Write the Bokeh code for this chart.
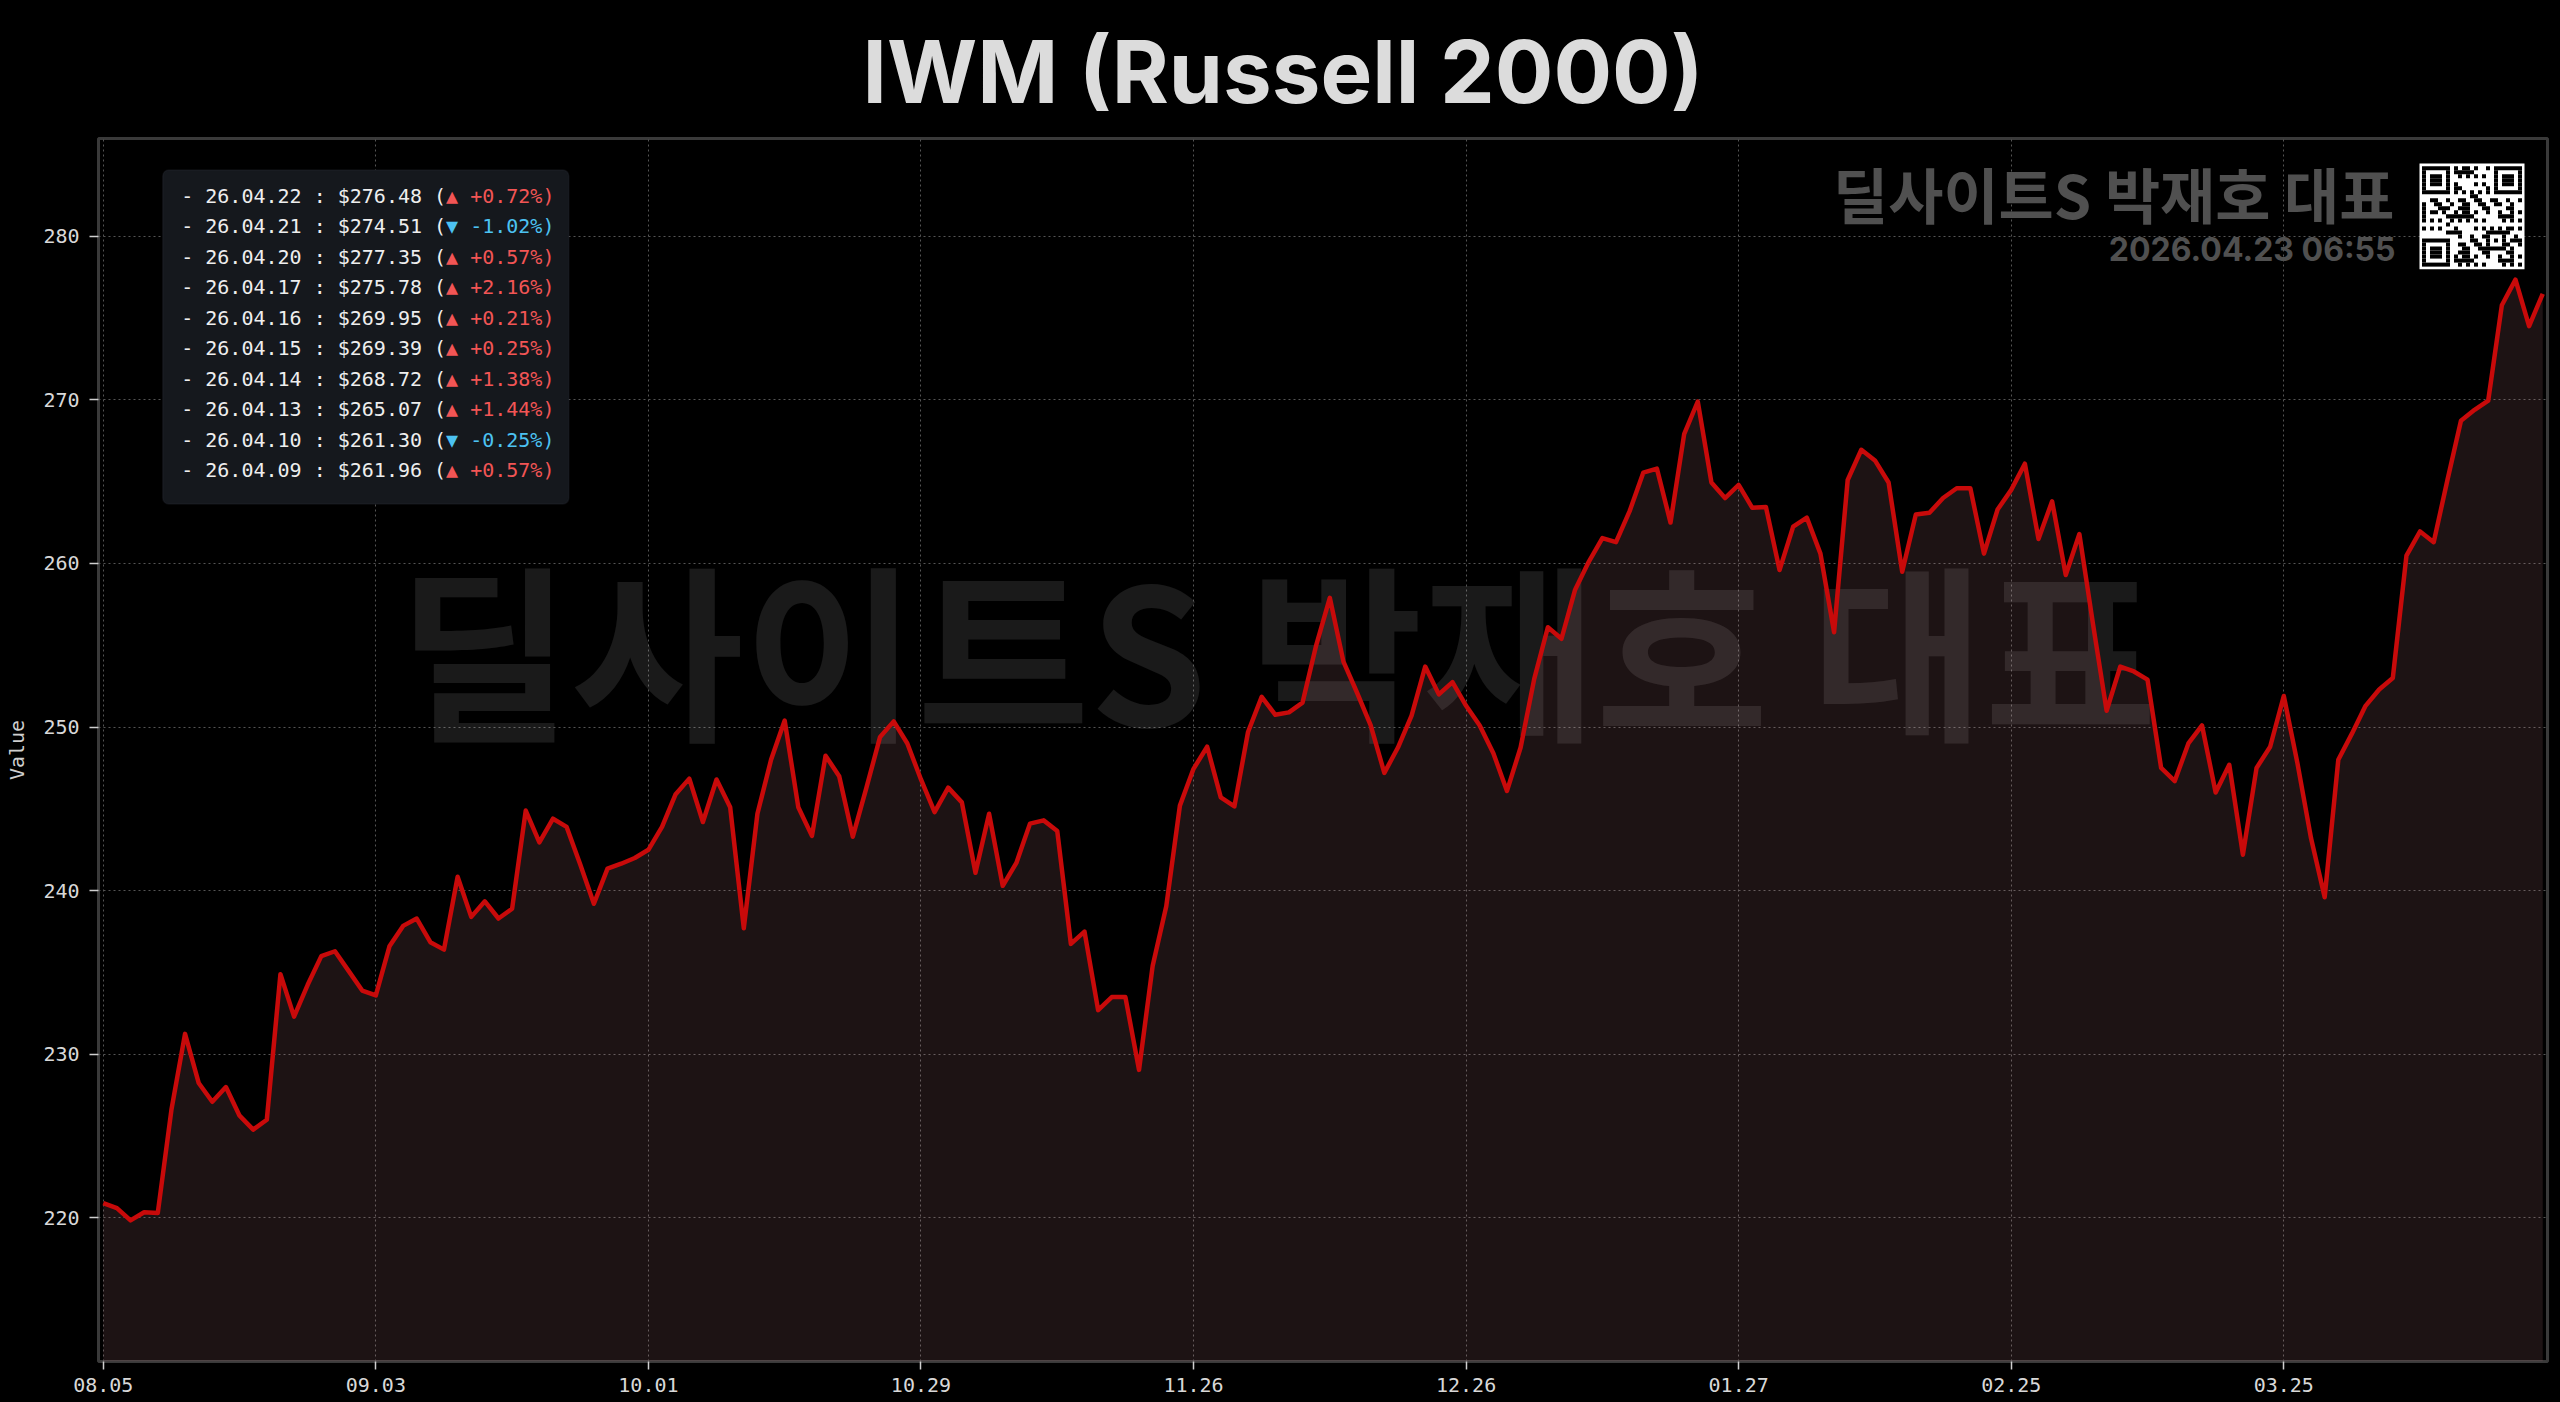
import numpy as np
import pandas as pd
from bokeh.plotting import figure
from bokeh.models import (Range1d, FixedTicker, Label, LabelSet, BoxAnnotation,
                          ColumnDataSource)
from bokeh.core.properties import value
from bokeh.embed import file_html
from bokeh.resources import INLINE

try:
    from bokeh.models import GlobalInlineStyleSheet
except Exception:
    GlobalInlineStyleSheet = None

# ---------------- data ----------------
values = [
    220.9, 220.6, 219.85, 220.35, 220.3, 226.6, 231.25, 228.25, 227.1, 228.0,
    226.25, 225.4, 226.0, 234.9, 232.3, 234.25, 236.0, 236.3, 235.1, 233.9,
    233.6, 236.6, 237.85, 238.3, 236.85, 236.4, 240.85, 238.4, 239.35, 238.3,
    238.9, 244.9, 242.95, 244.4, 243.9, 241.6, 239.2, 241.35, 241.65, 242.0,
    242.5, 243.9, 245.9, 246.85, 244.2, 246.8, 245.1, 237.7, 244.7, 248.0,
    250.4, 245.1, 243.35, 248.25, 247.0, 243.3, 246.3, 249.4, 250.35, 249.0,
    246.8, 244.8, 246.3, 245.4, 241.1, 244.7, 240.3, 241.7, 244.1, 244.3,
    243.65, 236.75, 237.5, 232.7, 233.5, 233.5, 229.05, 235.4, 239.05, 245.2,
    247.45, 248.8, 245.7, 245.15, 249.7, 251.85, 250.75, 250.9, 251.5, 255.0,
    257.9, 254.0, 252.1, 250.1, 247.2, 248.75, 250.7, 253.7, 252.0, 252.75,
    251.3, 250.1, 248.4, 246.1, 248.75, 252.95, 256.1, 255.4, 258.4, 260.1,
    261.55, 261.3, 263.2, 265.55, 265.8, 262.5, 267.9, 269.9, 264.95, 264.0,
    264.8, 263.4, 263.45, 259.6, 262.25, 262.8, 260.6, 255.8, 265.1, 266.95,
    266.3, 264.95, 259.5, 263.0, 263.1, 264.0, 264.6, 264.6, 260.6, 263.3,
    264.5, 266.1, 261.5, 263.8, 259.3, 261.8, 256.3, 251.0, 253.7, 253.4,
    252.9, 247.5, 246.7, 249.0, 250.1, 246.0, 247.7, 242.2, 247.5, 248.8,
    251.9, 247.8, 243.2, 239.6, 248.0, 249.6, 251.3, 252.3, 253.0, 260.48,
    261.96, 261.30, 265.07, 268.72, 269.39, 269.95, 275.78, 277.35, 274.51, 276.48,
]
market_holidays = ["2025-09-01", "2025-11-27", "2025-12-25", "2026-01-01",
                   "2026-01-19", "2026-02-16", "2026-04-03"]
start_date, end_date = "2025-08-05", "2026-04-22"
y_ticks = [220, 230, 240, 250, 260, 270, 280]
title_text = "IWM (Russell 2000)"
brand_text = "딜사이트S 박재호 대표"
stamp_text = "2026.04.23 06:55"
legend_rows = 10

n = len(values)
dates = [d for d in pd.bdate_range(start_date, end_date)
         if d.strftime("%Y-%m-%d") not in market_holidays][:n]
idx = list(range(n))
tick_idx = list(range(0, n, 20))
tick_labels = [dates[i].strftime("%m.%d") for i in tick_idx]

# ---------------- geometry ----------------
FIG_W, FIG_H = 2560, 1402
BL, BR, BT, BB = 98, 13, 138, 41
FW = FIG_W - BL - BR
FH = FIG_H - BT - 47          # expected frame height (x-axis panel ~47px)

vmin, vmax = min(values), max(values)
span = vmax - vmin
xpad = 0.35
ylo = vmin - 0.15 * span

p = figure(width=FIG_W, height=FIG_H, output_backend="svg", toolbar_location=None,
           x_range=Range1d(-xpad, n - 1 + xpad),
           y_range=Range1d(ylo, vmax + 0.15 * span),
           min_border_left=BL, min_border_right=BR, min_border_top=BT,
           min_border_bottom=BB,
           background_fill_color="#000000", border_fill_color="#000000")
# frame-pixel helper ranges: fx from frame left, fy from frame top (downwards)
p.extra_x_ranges = {"fx": Range1d(0, FW)}
p.extra_y_ranges = {"fy": Range1d(FH, 0)}
p.outline_line_color = "#3a3a3a"
p.outline_line_width = 3

if GlobalInlineStyleSheet is not None:
    p.stylesheets = [GlobalInlineStyleSheet(
        css="html, body { background-color: #000000 !important; overflow: hidden !important; }")]

# title
p.title.text = title_text
p.title.text_font = "Inter"
p.title.text_font_style = "bold"
p.title.text_font_size = "87px"
p.title.text_color = "#dcdcdc"
p.title.align = "left"
p.title.offset = 764
p.title.standoff = 30

# axes
mono = "DejaVu Sans Mono"
for ax in (p.xaxis, p.yaxis):
    ax.axis_line_color = None
    ax.minor_tick_line_color = None
    ax.major_tick_in = 0
    ax.major_tick_line_color = "#cfcfcf"
    ax.major_tick_line_width = 1.5
    ax.major_label_text_font = mono
    ax.major_label_text_color = "#d8d8d8"
p.xaxis.ticker = FixedTicker(ticks=tick_idx)
p.xaxis.major_label_overrides = {i: lab for i, lab in zip(tick_idx, tick_labels)}
p.xaxis.major_tick_out = 8
p.xaxis.major_label_standoff = 8
p.xaxis.major_label_text_font_size = "20px"
p.xaxis.axis_label_standoff = 0
p.yaxis.ticker = FixedTicker(ticks=y_ticks)
p.yaxis.major_tick_out = 9
p.yaxis.major_label_standoff = 10
p.yaxis.major_label_text_font_size = "20px"
p.yaxis.axis_label = "Value"
p.yaxis.axis_label_text_font = mono
p.yaxis.axis_label_text_font_style = "normal"
p.yaxis.axis_label_text_font_size = "20px"
p.yaxis.axis_label_text_color = "#cfcfcf"
p.yaxis.axis_label_standoff = 11

p.grid.grid_line_color = "#555555"
p.grid.grid_line_dash = "2 3"
p.grid.grid_line_width = 1

FR = dict(x_range_name="fx", y_range_name="fy")

# big watermark (under the fill and line)
p.text(x=[1179], y=[503], text=[brand_text], **FR,
       text_font=value("Noto Sans CJK KR"), text_font_style="bold",
       text_font_size=value("188px"), text_color="#ffffff", text_alpha=0.1,
       text_align="center", text_baseline="middle")

# area + line
p.varea(x=idx, y1=ylo, y2=values, fill_color="#f09ea6", fill_alpha=0.12)
p.line(idx, values, line_color="#c80a0a", line_width=4.5, line_join="round")

# QR-like badge (decoration)
NQ = 25
qr = np.zeros((NQ, NQ), dtype=bool)
reserved = np.zeros((NQ, NQ), dtype=bool)


def finder(r0, c0):
    for r in range(7):
        for c in range(7):
            qr[r0 + r, c0 + c] = (r in (0, 6) or c in (0, 6) or (2 <= r <= 4 and 2 <= c <= 4))
    reserved[max(r0 - 1, 0):r0 + 8, max(c0 - 1, 0):c0 + 8] = True


finder(0, 0)
finder(0, NQ - 7)
finder(NQ - 7, 0)
for k in range(NQ):
    if not reserved[6, k]:
        qr[6, k] = (k % 2 == 0)
    if not reserved[k, 6]:
        qr[k, 6] = (k % 2 == 0)
reserved[6, :] = True
reserved[:, 6] = True
for r in range(16, 21):
    for c in range(16, 21):
        qr[r, c] = (r in (16, 20) or c in (16, 20) or (r == 18 and c == 18))
reserved[16:21, 16:21] = True
for r in range(NQ):
    for c in range(NQ):
        if not reserved[r, c]:
            qr[r, c] = ((r * r * 3 + c * 7 + r * c * 5 + (c * c) % 4) % 11) < 5

qx0, qy0, qsize = 2321, 25, 105
mod = 4.0
marg = (qsize - NQ * mod) / 2
p.rect(x=[qx0 + qsize / 2], y=[qy0 + qsize / 2], width=qsize, height=qsize, **FR,
       fill_color="#ffffff", line_color=None)
rr, cc = np.nonzero(qr)
p.rect(x=qx0 + marg + mod * cc + mod / 2, y=qy0 + marg + mod * rr + mod / 2,
       width=mod, height=mod, **FR, fill_color="#000000", line_color=None)

# brand + timestamp (top right)
p.add_layout(Label(x=2296, y=54, **FR, text=brand_text,
                   text_font="Noto Sans CJK KR", text_font_style="bold",
                   text_font_size="60px", text_color="#505050",
                   text_align="right", text_baseline="middle"))
p.add_layout(Label(x=2297, y=110, **FR, text=stamp_text, text_font="Inter",
                   text_font_style="bold", text_font_size="32px",
                   text_color="#505050", text_align="right",
                   text_baseline="middle"))

# recent-values box
p.add_layout(BoxAnnotation(left=64.3, right=470.3, top=31.3, bottom=363.7, **FR,
                           fill_color="#15181d", fill_alpha=1.0,
                           line_color="#2c3037", line_width=1.5,
                           border_radius=6))
rows_white, rows_col, rows_clr, rows_y, rows_x, rows_x2 = [], [], [], [], [], []
cw = 0.602 * 20
for k in range(legend_rows):
    i = n - 1 - k
    pct = (values[i] / values[i - 1] - 1) * 100
    left = "- %s : $%.2f (" % (dates[i].strftime("%y.%m.%d"), values[i])
    if pct >= 0:
        right = "\u25B2 +%.2f%%)" % pct
        clr = "#f25555"
    else:
        right = "\u25BC %.2f%%)" % pct
        clr = "#4cc2f2"
    rows_white.append(left)
    rows_col.append(right)
    rows_clr.append(clr)
    rows_y.append(57 + 30.37 * k)
    rows_x.append(82.7)
    rows_x2.append(82.7 + len(left) * cw)
src = ColumnDataSource(dict(x=rows_x, x2=rows_x2, y=rows_y, tw=rows_white,
                            tc=rows_col, clr=rows_clr))
p.add_layout(LabelSet(x="x", y="y", text="tw", source=src, **FR,
                      text_font=value(mono), text_font_size=value("20px"),
                      text_color="#eeeeee", text_baseline="middle"))
p.add_layout(LabelSet(x="x2", y="y", text="tc", source=src, **FR,
                      text_font=value(mono), text_font_size=value("20px"),
                      text_color="clr", text_baseline="middle"))

open("out.html", "w").write(file_html(p, INLINE))
